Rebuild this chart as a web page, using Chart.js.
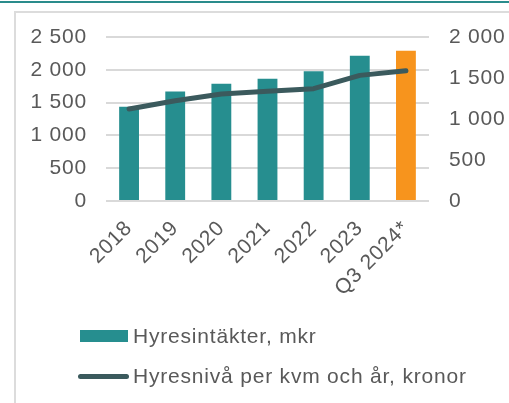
<!DOCTYPE html>
<html>
<head>
<meta charset="utf-8">
<script src="https://cdn.jsdelivr.net/npm/chart.js@4.4.1/dist/chart.umd.min.js"></script>
<style>
  html, body { margin:0; padding:0; background:#fff; }
  body { width:509px; height:403px; overflow:hidden; position:relative; font-family:"Liberation Sans", Arial, sans-serif; }
  #topline { position:absolute; left:0; top:1px; width:509px; height:2px; background:#2a8c8c; }
  #frame { position:absolute; left:14px; top:11px; width:600px; height:500px; border:2px solid #dcdcdc; box-sizing:border-box; }
  #wrap { position:absolute; left:0; top:0; width:509px; height:403px; }
  #legend { position:absolute; left:0; top:0; width:509px; height:403px; pointer-events:none; }
  .item { position:absolute; display:flex; align-items:center; font-size:21px; letter-spacing:0.8px; color:#595959; white-space:nowrap; }
  .sw { display:inline-block; margin-right:5px; }
</style>
</head>
<body>
<div id="topline"></div>
<div id="frame"></div>
<div id="wrap"><canvas id="c" width="509" height="403"></canvas></div>
<div id="legend"></div>
<script>
const categories = ['2018', '2019', '2020', '2021', '2022', '2023', 'Q3 2024*'];
const hyresintakter = [1437, 1671, 1788, 1864, 1976, 2215, 2291];
const hyresniva = [1122, 1223, 1305, 1337, 1370, 1532, 1589];
const leftTickLabels = ['0', '500', '1 000', '1 500', '2 000', '2 500'];
const rightTickLabels = ['0', '500', '1 000', '1 500', '2 000'];
const seriesNames = ['Hyresintäkter, mkr', 'Hyresnivå per kvm och år, kronor'];

const TEAL = '#268e8f';
const ORANGE = '#f7941d';
const LINE = '#3b5a5d';
const TXT = '#595959';
const FONT = { family: '"Liberation Sans", Arial, sans-serif', size: 21 };
const barColors = categories.map((c, i) => i === categories.length - 1 ? ORANGE : TEAL);

const spacingPlugin = {
  id: 'spacing',
  beforeLayout(chart) { chart.ctx.letterSpacing = '0.8px'; },
  beforeDraw(chart) { chart.ctx.letterSpacing = '0.8px'; }
};

const chart = new Chart(document.getElementById('c'), {
  type: 'bar',
  data: {
    labels: categories,
    datasets: [
      {
        type: 'line',
        label: seriesNames[1],
        data: hyresniva,
        yAxisID: 'y2',
        borderColor: LINE,
        backgroundColor: LINE,
        borderWidth: 5,
        borderCapStyle: 'round',
        borderJoinStyle: 'round',
        pointRadius: 0,
        tension: 0,
        order: 0
      },
      {
        type: 'bar',
        label: seriesNames[0],
        data: hyresintakter,
        yAxisID: 'y',
        backgroundColor: barColors,
        borderWidth: 0,
        barPercentage: 0.43,
        categoryPercentage: 1,
        order: 1
      }
    ]
  },
  options: {
    responsive: false,
    animation: false,
    events: [],
    layout: { padding: { left: 30, right: 0, top: 37, bottom: 0 } },
    plugins: { legend: { display: false }, tooltip: { enabled: false } },
    scales: {
      x: {
        grid: { display: false },
        border: { display: false },
        ticks: {
          color: TXT,
          font: FONT,
          minRotation: 45, maxRotation: 45,
          padding: 7,
          autoSkip: false
        },
        afterFit(scale) { scale.height = 202; }
      },
      y: {
        position: 'left',
        min: 0, max: 2500,
        grid: { color: '#d9d9d9', lineWidth: 2, drawTicks: false },
        border: { display: false },
        ticks: {
          stepSize: 500,
          color: TXT,
          padding: 19,
          font: FONT,
          callback: (v, i) => leftTickLabels[i]
        },
        afterFit(scale) { scale.width = 76; }
      },
      y2: {
        position: 'right',
        min: 0, max: 2000,
        grid: { display: false, drawTicks: false },
        border: { display: false },
        ticks: {
          stepSize: 500,
          color: TXT,
          padding: 20,
          font: FONT,
          callback: (v, i) => rightTickLabels[i]
        },
        afterFit(scale) { scale.width = 80; }
      }
    }
  },
  plugins: [spacingPlugin]
});

// HTML legend built from the chart's datasets
const legend = document.getElementById('legend');
const barDs = chart.data.datasets[1];
const lineDs = chart.data.datasets[0];
const it1 = document.createElement('div');
it1.className = 'item';
it1.style.left = '80px'; it1.style.top = '324px';
it1.innerHTML = '<span class="sw" style="width:48px;height:12px;background:' + TEAL + '"></span>';
it1.appendChild(document.createTextNode(barDs.label));
const it2 = document.createElement('div');
it2.className = 'item';
it2.style.left = '78px'; it2.style.top = '364px';
it2.innerHTML = '<span class="sw" style="width:51px;height:5px;border-radius:3px;margin-right:4px;background:' + lineDs.borderColor + '"></span>';
it2.appendChild(document.createTextNode(lineDs.label));
legend.appendChild(it1);
legend.appendChild(it2);
</script>
</body>
</html>
